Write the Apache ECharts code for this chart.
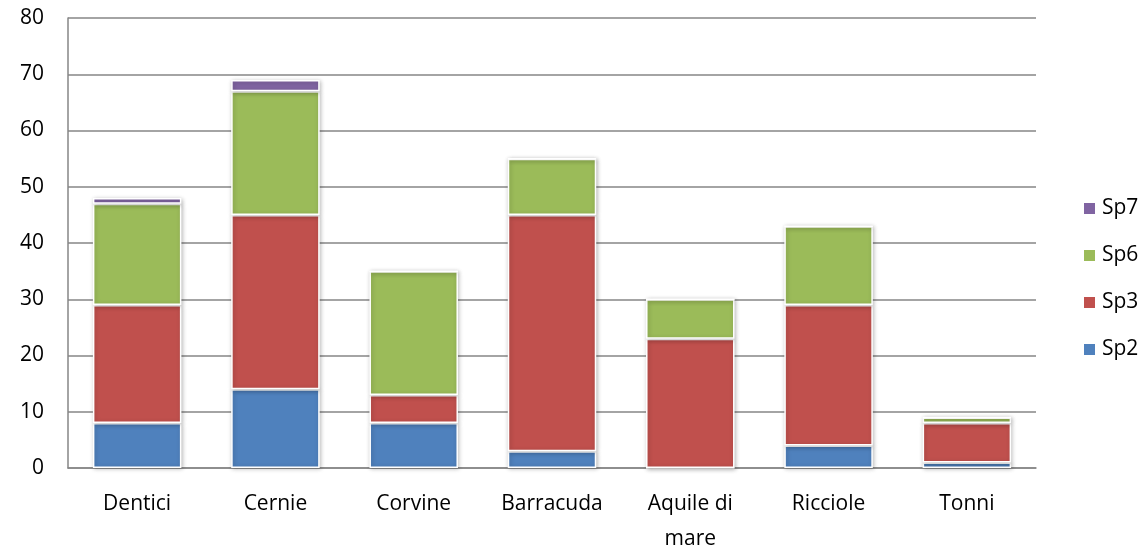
<!DOCTYPE html>
<html>
<head>
<meta charset="utf-8">
<script src="https://cdn.jsdelivr.net/npm/echarts@6/dist/echarts.min.js"></script>
<style>
  html, body { margin: 0; padding: 0; background: #fff; }
  #chart { width: 1141px; height: 546px; }
</style>
</head>
<body>
<div id="chart"></div>
<script>
// Catch composition per fish group, stacked by species class
const categories = ['Dentici', 'Cernie', 'Corvine', 'Barracuda', 'Aquile di\nmare', 'Ricciole', 'Tonni'];
const sp2 = [8, 14, 8, 3, 0, 4, 1];
const sp3 = [21, 31, 5, 42, 23, 25, 7];
const sp6 = [18, 22, 22, 10, 7, 14, 1];
const sp7 = [1, 2, 0, 0, 0, 0, 0];
const yTicks = [0, 10, 20, 30, 40, 50, 60, 70, 80];

const FONT = '"Open Sans", Lato, sans-serif';

function stackSeries(name, data, color) {
  return {
    name: name,
    type: 'bar',
    stack: 'total',
    barWidth: '64%',
    data: data,
    itemStyle: {
      color: color,
      borderColor: '#ffffff',
      borderWidth: 1.5,
      shadowBlur: 4,
      shadowColor: 'rgba(0,0,0,0.25)',
      shadowOffsetX: 1,
      shadowOffsetY: 1
    }
  };
}

const chart = echarts.init(document.getElementById('chart'));
chart.setOption({
  animation: false,
  backgroundColor: '#ffffff',
  grid: {
    left: 68, right: 105, top: 18, bottom: 78,
    containLabel: false, outerBoundsMode: 'none'
  },
  legend: {
    data: ['Sp7', 'Sp6', 'Sp3', 'Sp2'],
    orient: 'vertical',
    left: 1077,
    top: 193,
    itemWidth: 13,
    itemHeight: 13,
    itemGap: 26,
    icon: 'rect',
    textStyle: { fontFamily: FONT, fontSize: 21, color: '#000', padding: [0, 0, 0, 1] }
  },
  xAxis: {
    type: 'category',
    data: categories,
    axisLine: { show: true, lineStyle: { color: '#868686', width: 1.5 } },
    axisTick: { show: false },
    axisLabel: {
      fontFamily: FONT, fontSize: 21, color: '#000',
      margin: 19, lineHeight: 35, interval: 0
    }
  },
  yAxis: {
    type: 'value',
    min: 0,
    max: 80,
    interval: 10,
    axisLine: { show: true, lineStyle: { color: '#868686', width: 1.5 } },
    axisTick: { show: false },
    axisLabel: {
      fontFamily: FONT, fontSize: 21, color: '#000', margin: 24,
      formatter: v => (yTicks.includes(v) ? String(v) : '')
    },
    splitLine: { show: true, lineStyle: { color: '#868686', width: 1.5 } }
  },
  series: [
    stackSeries('Sp2', sp2, '#4F81BD'),
    stackSeries('Sp3', sp3, '#C0504D'),
    stackSeries('Sp6', sp6, '#9BBB59'),
    stackSeries('Sp7', sp7, '#8064A2')
  ]
});
</script>
</body>
</html>
